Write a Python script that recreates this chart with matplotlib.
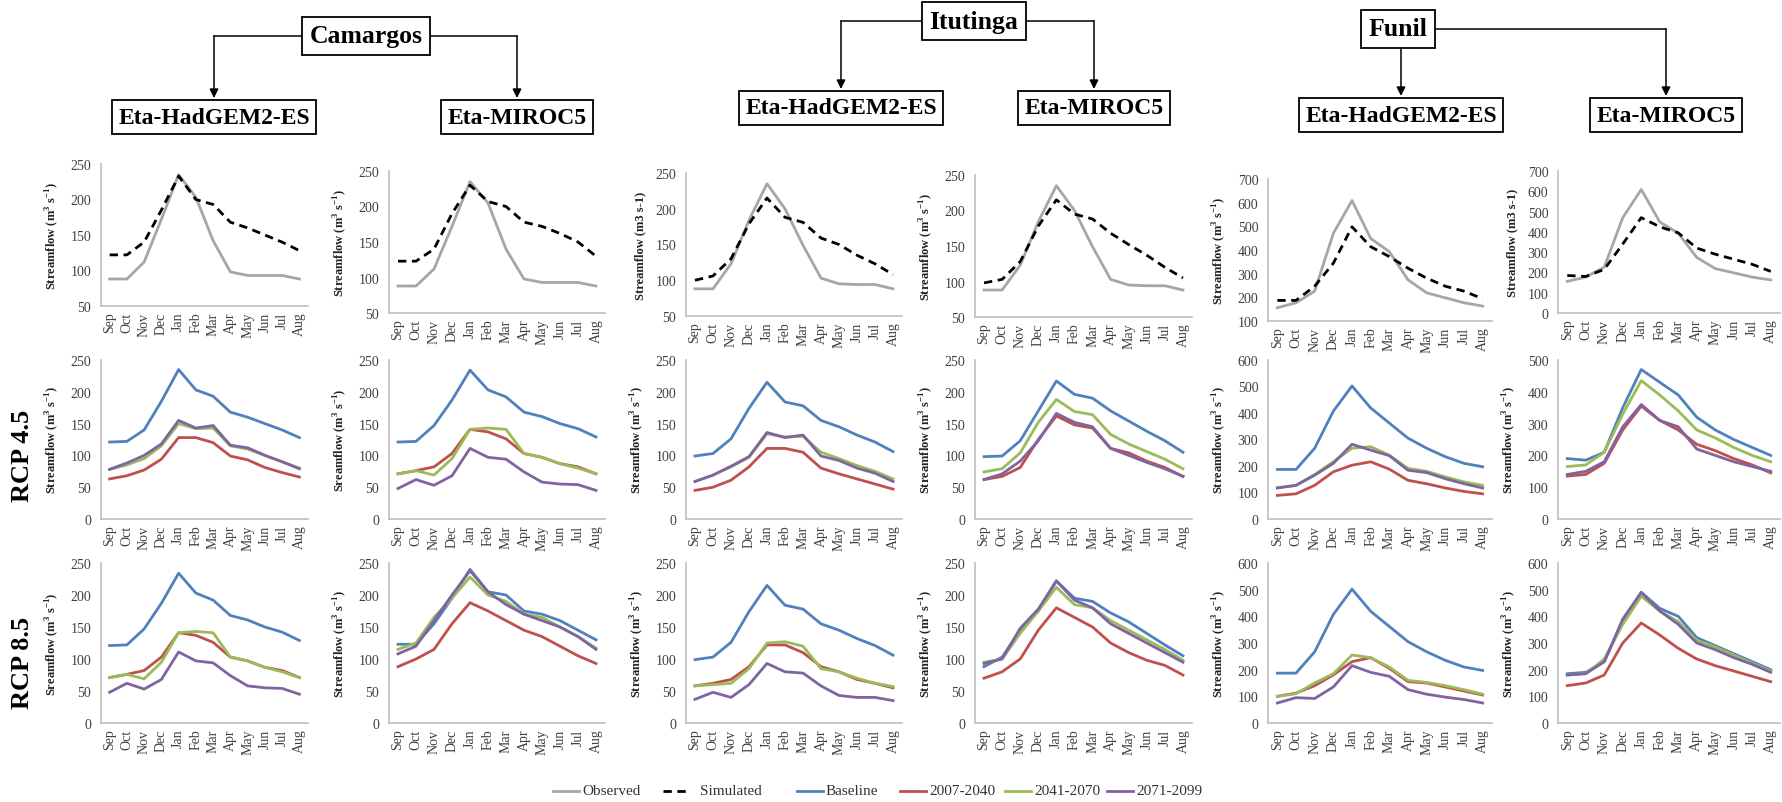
import matplotlib
matplotlib.use('Agg')
import matplotlib.pyplot as plt
from matplotlib.lines import Line2D
from matplotlib.patches import FancyArrowPatch

plt.rcParams['font.family'] = ['Liberation Serif', 'DejaVu Serif']
plt.rcParams['mathtext.fontset'] = 'custom'
plt.rcParams['mathtext.rm'] = 'Liberation Serif'
plt.rcParams['mathtext.bf'] = 'Liberation Serif:bold'

months = ['Sep', 'Oct', 'Nov', 'Dec', 'Jan', 'Feb', 'Mar', 'Apr', 'May', 'Jun', 'Jul', 'Aug']

# row 1 : observed vs simulated
cam_had_obs = [88, 88, 112, 172, 235, 203, 142, 98, 93, 93, 93, 88]
cam_had_sim = [122, 122, 140, 185, 233, 200, 193, 168, 160, 150, 140, 128]
cam_mir_obs = [88, 88, 112, 172, 235, 205, 140, 98, 93, 93, 93, 88]
cam_mir_sim = [123, 123, 140, 190, 230, 207, 200, 178, 172, 162, 150, 130]
itu_had_obs = [88, 88, 123, 184, 235, 200, 149, 103, 95, 94, 94, 88]
itu_had_sim = [100, 106, 130, 179, 215, 188, 181, 159, 150, 135, 123, 108]
itu_mir_obs = [88, 88, 123, 184, 235, 200, 149, 103, 95, 94, 94, 88]
itu_mir_sim = [98, 103, 128, 178, 215, 195, 188, 168, 152, 137, 120, 105]
fun_had_obs = [156, 177, 226, 470, 609, 449, 393, 274, 219, 198, 177, 163]
fun_had_sim = [187, 187, 247, 344, 498, 414, 372, 323, 281, 247, 226, 194]
fun_mir_obs = [156, 177, 226, 470, 609, 449, 393, 274, 219, 198, 177, 163]
fun_mir_sim = [185, 180, 215, 340, 470, 425, 395, 320, 290, 265, 240, 205]

# row 2 : RCP 4.5 (baseline, 2007-2040, 2041-2070, 2071-2099)
r45_cam_had_base = [121, 122, 140, 185, 235, 203, 193, 168, 160, 150, 140, 128]
r45_cam_had_p1 = [63, 68, 77, 94, 128, 128, 120, 99, 93, 81, 73, 66]
r45_cam_had_p2 = [78, 85, 95, 115, 150, 142, 143, 115, 110, 100, 90, 80]
r45_cam_had_p3 = [78, 88, 100, 118, 155, 143, 147, 116, 112, 100, 90, 79]

r45_cam_mir_base = [121, 122, 147, 187, 234, 203, 192, 168, 161, 150, 142, 129]
r45_cam_mir_p1 = [71, 76, 82, 103, 141, 137, 126, 103, 97, 87, 82, 71]
r45_cam_mir_p2 = [71, 76, 69, 95, 141, 143, 141, 103, 97, 87, 80, 71]
r45_cam_mir_p3 = [48, 62, 53, 68, 111, 97, 94, 74, 58, 55, 54, 45]

r45_itu_had_base = [99, 103, 126, 174, 215, 184, 178, 155, 145, 132, 121, 106]
r45_itu_had_p1 = [45, 50, 61, 82, 111, 111, 105, 80, 71, 63, 55, 47]
r45_itu_had_p2 = [59, 69, 82, 97, 134, 129, 130, 105, 95, 84, 75, 63]
r45_itu_had_p3 = [59, 69, 83, 98, 136, 128, 132, 99, 92, 80, 72, 59]

r45_itu_mir_base = [98, 99, 123, 170, 217, 196, 190, 170, 154, 138, 123, 105]
r45_itu_mir_p1 = [62, 67, 81, 125, 162, 148, 143, 111, 104, 91, 81, 67]
r45_itu_mir_p2 = [74, 79, 104, 152, 188, 169, 164, 133, 118, 106, 94, 79]
r45_itu_mir_p3 = [62, 71, 91, 123, 166, 152, 145, 111, 100, 89, 79, 67]

r45_fun_had_base = [187, 187, 267, 407, 502, 419, 362, 305, 267, 235, 210, 197]
r45_fun_had_p1 = [89, 95, 127, 178, 203, 216, 188, 146, 133, 117, 104, 95]
r45_fun_had_p2 = [118, 127, 168, 216, 267, 273, 241, 191, 180, 159, 140, 127]
r45_fun_had_p3 = [117, 127, 165, 210, 282, 260, 239, 184, 175, 152, 133, 117]

r45_fun_mir_base = [190, 185, 210, 350, 470, 430, 390, 320, 280, 250, 225, 200]
r45_fun_mir_p1 = [135, 140, 175, 280, 355, 310, 280, 235, 215, 190, 170, 145]
r45_fun_mir_p2 = [165, 170, 210, 330, 435, 390, 340, 280, 255, 225, 200, 180]
r45_fun_mir_p3 = [140, 150, 180, 290, 360, 310, 290, 220, 200, 180, 165, 150]

# row 3 : RCP 8.5
r85_cam_had_base = [121, 122, 147, 187, 234, 203, 192, 168, 161, 150, 142, 129]
r85_cam_had_p1 = [71, 76, 82, 103, 141, 137, 126, 103, 97, 87, 82, 71]
r85_cam_had_p2 = [71, 76, 69, 95, 141, 143, 141, 103, 97, 87, 80, 71]
r85_cam_had_p3 = [48, 62, 53, 68, 111, 97, 94, 74, 58, 55, 54, 45]

r85_cam_mir_base = [123, 123, 155, 195, 240, 205, 200, 175, 170, 160, 145, 130]
r85_cam_mir_p1 = [88, 100, 115, 155, 188, 175, 160, 145, 135, 120, 105, 93]
r85_cam_mir_p2 = [115, 125, 165, 195, 228, 200, 190, 170, 165, 150, 135, 117]
r85_cam_mir_p3 = [108, 120, 160, 200, 238, 205, 185, 170, 160, 150, 135, 115]

r85_itu_had_base = [99, 103, 126, 174, 215, 184, 178, 155, 145, 132, 121, 106]
r85_itu_had_p1 = [58, 62, 68, 88, 122, 122, 110, 88, 80, 68, 62, 55]
r85_itu_had_p2 = [58, 60, 62, 85, 125, 127, 120, 85, 80, 70, 62, 57]
r85_itu_had_p3 = [37, 48, 40, 60, 93, 80, 78, 58, 43, 40, 40, 35]

r85_itu_mir_base = [88, 103, 145, 175, 222, 195, 190, 172, 158, 140, 122, 105]
r85_itu_mir_p1 = [70, 80, 100, 145, 180, 165, 150, 125, 110, 98, 90, 75]
r85_itu_mir_p2 = [95, 100, 140, 175, 212, 185, 180, 160, 145, 130, 115, 98]
r85_itu_mir_p3 = [93, 100, 148, 178, 222, 192, 180, 155, 140, 125, 110, 95]

r85_fun_had_base = [187, 187, 267, 407, 502, 419, 362, 305, 267, 235, 210, 197]
r85_fun_had_p1 = [100, 112, 140, 180, 230, 245, 205, 155, 150, 135, 120, 105]
r85_fun_had_p2 = [100, 110, 150, 185, 255, 245, 210, 160, 152, 140, 125, 108]
r85_fun_had_p3 = [75, 95, 92, 135, 215, 190, 175, 125, 108, 97, 88, 75]

r85_fun_mir_base = [185, 190, 230, 380, 490, 430, 400, 320, 290, 260, 230, 200]
r85_fun_mir_p1 = [140, 150, 180, 300, 375, 330, 280, 240, 215, 195, 175, 155]
r85_fun_mir_p2 = [180, 185, 240, 370, 475, 420, 380, 310, 285, 255, 225, 195]
r85_fun_mir_p3 = [180, 185, 230, 390, 490, 420, 370, 300, 275, 245, 220, 190]

# y axis ranges (min, max, step) per row and column
row1_ylim = [(50, 250, 50), (50, 250, 50), (50, 250, 50), (50, 250, 50), (100, 700, 100), (0, 700, 100)]
row2_ylim = [(0, 250, 50), (0, 250, 50), (0, 250, 50), (0, 250, 50), (0, 600, 100), (0, 500, 100)]
row3_ylim = [(0, 250, 50), (0, 250, 50), (0, 250, 50), (0, 250, 50), (0, 600, 100), (0, 600, 100)]

lab = r'Streamflow (m$^\mathbf{3}$ s$^\mathbf{-1}$)'
lab_plain = 'Streamflow (m3 s-1)'
lab_typo = r'Sreamflow (m$^\mathbf{3}$ s$^\mathbf{-1}$)'
row1_labels = [lab, lab, lab_plain, lab, lab, lab_plain]
row2_labels = [lab, lab_typo, lab, lab, lab, lab]
row3_labels = [lab_typo, lab, lab, lab, lab, lab]

C_OBS = '#A6A6A6'
C_BASE = '#4F81BD'
C_P1 = '#C0504D'
C_P2 = '#9BBB59'
C_P3 = '#8064A2'

W, H = 1782, 803
fig = plt.figure(figsize=(W / 100, H / 100), dpi=100)


def fx(x):
    return x / W


def fy(y):
    return 1 - y / H


def panel(left, right, top, bottom, ylim, ylabel):
    ax = fig.add_axes([fx(left), fy(bottom), fx(right - left), (bottom - top) / H])
    lo, hi, st = ylim
    ax.set_ylim(lo, hi)
    ax.set_yticks(range(lo, hi + 1, st))
    ax.set_xlim(-0.5, 11.5)
    ax.set_xticks(range(12))
    ax.set_xticklabels(months, rotation=90)
    for s in ['top', 'right']:
        ax.spines[s].set_visible(False)
    for s in ['left', 'bottom']:
        ax.spines[s].set_color('#BFBFBF')
        ax.spines[s].set_linewidth(1.2)
    ax.tick_params(axis='y', length=0, pad=7, labelsize=10, colors='#404040')
    ax.tick_params(axis='x', length=0, pad=4, labelsize=10, colors='#404040')
    ax.set_ylabel(ylabel, fontsize=9, fontweight='bold', color='#222222')
    ax.yaxis.set_label_coords(-40 / (right - left), 0.5)
    return ax


cols = [(101, 308), (389, 605), (686, 902), (975, 1192), (1268, 1492), (1558, 1780)]
row1_y = [(165, 307), (172, 314), (174, 317), (176, 318), (180, 322), (172, 314)]
row2_y = (361, 520)
row3_y = (564, 724)

row1_data = [(cam_had_obs, cam_had_sim), (cam_mir_obs, cam_mir_sim), (itu_had_obs, itu_had_sim),
             (itu_mir_obs, itu_mir_sim), (fun_had_obs, fun_had_sim), (fun_mir_obs, fun_mir_sim)]
row2_data = [(r45_cam_had_base, r45_cam_had_p1, r45_cam_had_p2, r45_cam_had_p3),
             (r45_cam_mir_base, r45_cam_mir_p1, r45_cam_mir_p2, r45_cam_mir_p3),
             (r45_itu_had_base, r45_itu_had_p1, r45_itu_had_p2, r45_itu_had_p3),
             (r45_itu_mir_base, r45_itu_mir_p1, r45_itu_mir_p2, r45_itu_mir_p3),
             (r45_fun_had_base, r45_fun_had_p1, r45_fun_had_p2, r45_fun_had_p3),
             (r45_fun_mir_base, r45_fun_mir_p1, r45_fun_mir_p2, r45_fun_mir_p3)]
row3_data = [(r85_cam_had_base, r85_cam_had_p1, r85_cam_had_p2, r85_cam_had_p3),
             (r85_cam_mir_base, r85_cam_mir_p1, r85_cam_mir_p2, r85_cam_mir_p3),
             (r85_itu_had_base, r85_itu_had_p1, r85_itu_had_p2, r85_itu_had_p3),
             (r85_itu_mir_base, r85_itu_mir_p1, r85_itu_mir_p2, r85_itu_mir_p3),
             (r85_fun_had_base, r85_fun_had_p1, r85_fun_had_p2, r85_fun_had_p3),
             (r85_fun_mir_base, r85_fun_mir_p1, r85_fun_mir_p2, r85_fun_mir_p3)]

x = list(range(12))
LW = 2.0

for i, (l, r) in enumerate(cols):
    t, b = row1_y[i]
    ax = panel(l, r, t, b, row1_ylim[i], row1_labels[i])
    obs, sim = row1_data[i]
    ax.plot(x, obs, color=C_OBS, lw=LW, solid_joinstyle='round')
    ax.plot(x, sim, color='black', lw=LW, ls=(0, (3, 2)))

for rowy, rdata, rlim, rlab in [(row2_y, row2_data, row2_ylim, row2_labels),
                                (row3_y, row3_data, row3_ylim, row3_labels)]:
    for i, (l, r) in enumerate(cols):
        ax = panel(l, r, rowy[0], rowy[1], rlim[i], rlab[i])
        base, p1, p2, p3 = rdata[i]
        ax.plot(x, base, color=C_BASE, lw=LW, solid_joinstyle='round')
        ax.plot(x, p1, color=C_P1, lw=LW, solid_joinstyle='round')
        ax.plot(x, p2, color=C_P2, lw=LW, solid_joinstyle='round')
        ax.plot(x, p3, color=C_P3, lw=LW, solid_joinstyle='round')

# row labels
fig.text(fx(23), fy(456), 'RCP 4.5', rotation=90, ha='center', va='center',
         fontsize=19, fontweight='bold')
fig.text(fx(23), fy(663), 'RCP 8.5', rotation=90, ha='center', va='center',
         fontsize=19, fontweight='bold')

# header boxes and arrows
box = dict(boxstyle='square,pad=0.28', fc='white', ec='black', lw=1.3)
groups = [('Camargos', (366, 37), (214, 118), (517, 118)),
          ('Itutinga', (974, 22), (841, 109), (1094, 109)),
          ('Funil', (1398, 30), (1401, 116), (1666, 116))]
for name, (cx, cy), (lx, ly), (rx, ry) in groups:
    fig.text(fx(cx), fy(cy), name, ha='center', va='center', fontsize=18.5,
             fontweight='bold', bbox=box, zorder=5)
    fig.text(fx(lx), fy(ly), 'Eta-HadGEM2-ES', ha='center', va='center', fontsize=17,
             fontweight='bold', bbox=box, zorder=5)
    fig.text(fx(rx), fy(ry), 'Eta-MIROC5', ha='center', va='center', fontsize=17,
             fontweight='bold', bbox=box, zorder=5)
    fig.add_artist(Line2D([fx(lx), fx(rx)], [fy(cy), fy(cy)], color='black', lw=1.1,
                          transform=fig.transFigure, zorder=1))
    for tx, ty in [(lx, ly), (rx, ry)]:
        fig.add_artist(FancyArrowPatch((fx(tx), fy(cy)), (fx(tx), fy(ty - 19)),
                                       transform=fig.transFigure, arrowstyle='-|>',
                                       mutation_scale=13, color='black', lw=1.1,
                                       shrinkA=0, shrinkB=0, zorder=1))

# legend
leg_y = 792
leg_items = [('Observed', C_OBS, '-', 553), ('Simulated', 'black', (0, (3, 2)), 663),
             ('Baseline', C_BASE, '-', 797), ('2007-2040', C_P1, '-', 900),
             ('2041-2070', C_P2, '-', 1005), ('2071-2099', C_P3, '-', 1107)]
for name, col, ls, x0 in leg_items:
    fig.add_artist(Line2D([fx(x0), fx(x0 + 26)], [fy(leg_y), fy(leg_y)], color=col, lw=2,
                          ls=ls, transform=fig.transFigure))
    fig.text(fx(x0 + 29 if name != 'Simulated' else x0 + 37), fy(leg_y), name,
             ha='left', va='center', fontsize=11, color='#333333')

fig.savefig('out.png', dpi=100, facecolor='white')
